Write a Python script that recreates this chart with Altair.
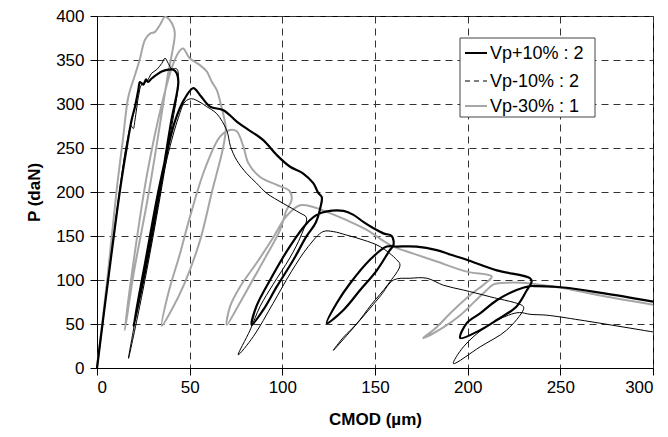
import altair as alt
import pandas as pd

series_names = ["Vp+10% : 2", "Vp-10% : 2", "Vp-30% : 1"]

# (CMOD µm, P daN), in drawing order
vp_plus10 = [(0,0),(6,100),(12.4,202),(16,250),(18.7,282),(20.5,297),(22.3,316),(23.2,325),(25,322),(26.5,328),(27.5,325),(29.5,329),(32,333),(34.9,337),(38.5,339),(41.2,339),(43,335),(43.9,325),(40,280),(33,190),(26,110),(19.6,47),(26,120),(34,210),(42,280),(47,305),(52,318),(55.6,310),(61,297),(68.2,293),(75.4,280),(80.8,272),(89.7,259),(97,242),(104,229),(111.3,221),(116.7,210),(119.4,199),(121.3,194),(120.5,182),(118,165),(113,149.5),(106,123),(97,92.4),(89.7,66),(83.5,49),(86,70),(93.4,100),(104,138),(113,164),(118.6,174),(124,178),(133,178.5),(138.4,174),(143.7,166),(149,159),(154.5,153),(159,150),(160,140),(158,134),(151,111),(142,88.6),(133,66),(124,51),(129.3,73.5),(136.5,96),(147.3,123),(156.3,138),(161.7,138),(172.5,138),(183.3,134),(190.5,129),(199.5,123),(215.7,111),(233.7,102),(234.5,98),(232,88.6),(226.4,70),(215.7,54.5),(206.7,43),(196,34),(199.5,51),(206.7,62),(215.7,77),(226.4,88.6),(233.7,93),(237,93),(251.6,91.5),(273,85),(300,75.4)]

vp_minus10 = [(0,0),(6,100),(12.2,202),(16,255),(18.5,275),(19.6,272),(20.5,282),(22.5,310),(24,322),(27,326),(29.5,335),(32.2,339),(34.9,346),(36.7,352),(38.5,346),(40.3,340),(43,340),(44,328),(40,270),(32,170),(24,80),(17,11),(22,70),(30,160),(38,240),(44,285),(47.5,302.6),(51,306),(55.6,302),(59.2,297),(64.6,289),(70,270),(72,252),(75.4,236),(80.8,221),(86.1,210),(91.6,198.5),(100.5,187),(109.6,176),(113,171),(110,150),(104,125),(95,95),(88,70),(82.6,43),(76.2,15),(84.3,35.6),(95,73.5),(105,110),(114,138),(122,155),(127.5,155),(134.7,151),(143.7,145.5),(152.7,138),(161.7,123),(163.5,117),(157,95),(148,72),(140,50),(133,35),(127.5,20),(136,40),(145,62),(153,82),(160,100),(169,102),(178,102),(187,94),(197.7,88.6),(212,81),(230,70),(230,66),(221,43),(206.7,24),(192.3,5),(197.7,24),(210,47),(222,60),(228,63),(233.7,61),(242.7,60),(260.7,54.5),(300,41)]

vp_minus30 = [(0,0),(5.5,100),(10.6,202),(14,260),(16.9,308),(20.5,333),(23,350),(25.9,373),(28.6,380),(31.3,382),(34,390),(36.7,399),(39,396),(41.2,388),(42,380),(38,330),(28,200),(20,110),(15,43),(19,110),(27,220),(35,300),(41,345),(44.8,361),(46.5,363),(50,352),(55,345),(59.2,337),(62,325),(64.6,316),(67,298),(69,280),(69.5,272),(68,250),(62,200),(55.6,145),(47,95),(40,65),(35,48),(38.5,85),(44.8,130),(50.2,172),(58,225),(66.4,263),(71.8,270.5),(75.4,269),(79,251.5),(81.7,232.6),(88,217),(97,208),(104,201),(105,191),(102,178),(98.8,157),(92,130),(84,100),(76,70),(70,49),(71.8,70),(77.2,92.4),(86,119),(95,148),(102,172),(109.5,185),(116.7,183),(125.7,176),(134.7,168),(145.6,157),(152.7,147),(160,138),(170.7,130),(183.3,121),(199.5,109.5),(213,104),(209.4,96),(202,84),(192,65),(182,44),(176,34),(186,45),(196,60),(204,76),(210,88),(214,95),(222,97),(234,96),(241,94),(252,90.5),(270,83),(300,72)]

x_ticks = [0, 50, 100, 150, 200, 250, 300]
y_ticks = [0, 50, 100, 150, 200, 250, 300, 350, 400]

rows = []
for name, pts in zip(series_names, [vp_plus10, vp_minus10, vp_minus30]):
    for i, (cx, p) in enumerate(pts):
        rows.append({"series": name, "cmod": cx, "p": p, "order": i})
df = pd.DataFrame(rows)

FONT = "Liberation Sans"
W, H = 556, 352

x_enc = alt.X("cmod:Q", scale=alt.Scale(domain=[0, 300], nice=False, zero=False),
              axis=alt.Axis(values=x_ticks, title="CMOD (µm)", format="d"))
y_enc = alt.Y("p:Q", scale=alt.Scale(domain=[0, 400], nice=False),
              axis=alt.Axis(values=y_ticks, title="P (daN)", format="d"))

styles = {
    "Vp-30% : 1": ("#a6a6a6", 2.0),
    "Vp-10% : 2": ("#000000", 1.0),
    "Vp+10% : 2": ("#000000", 2.2),
}

layers = []
for name in ["Vp-30% : 1", "Vp-10% : 2", "Vp+10% : 2"]:
    col, sw = styles[name]
    layers.append(
        alt.Chart(df).transform_filter(alt.datum.series == name)
        .mark_line(color=col, strokeWidth=sw, strokeJoin="round", interpolate="catmull-rom")
        .encode(x=x_enc, y=y_enc, order="order:Q")
    )

one = pd.DataFrame({"k": [0]})
# legend box (pixel positions inside plot area)
lx0, lx1, ly0, ly1 = 363, 498, 22, 101
legend_rows_y = [37, 65, 90]
legend_dash = [[1, 0], [5, 4], [1, 0]]
legend_col = ["#000000", "#000000", "#a6a6a6"]
legend_w = [2.0, 1.0, 2.0]

layers.append(
    alt.Chart(one).mark_rect(fill="white", stroke="#444444", strokeWidth=1)
    .encode(x=alt.value(lx0), x2=alt.value(lx1), y=alt.value(ly0), y2=alt.value(ly1))
)
for name, yy, dash, col, sw in zip(series_names, legend_rows_y, legend_dash, legend_col, legend_w):
    layers.append(
        alt.Chart(one).mark_rule(color=col, strokeWidth=sw, strokeDash=dash)
        .encode(x=alt.value(368), x2=alt.value(390), y=alt.value(yy))
    )
    layers.append(
        alt.Chart(one).mark_text(align="left", baseline="middle", font=FONT, fontSize=18, color="black")
        .encode(x=alt.value(393), y=alt.value(yy + 1), text=alt.value(name))
    )

chart = alt.layer(*layers).properties(
    width=W, height=H,
    autosize=alt.AutoSizeParams(type="none"),
    padding={"left": 89, "top": 8, "right": 7, "bottom": 69},
    background="white",
).configure_view(
    stroke="black", strokeWidth=1
).configure_axis(
    labelFont=FONT, labelFontSize=17, labelColor="black",
    titleFont=FONT, titleFontSize=17, titleFontWeight="bold", titleColor="black",
    domainColor="black", tickColor="black", tickSize=7,
    grid=True, gridColor="#333333", gridDash=[7, 5], gridWidth=1, gridOpacity=1,
).configure_axisX(
    labelPadding=4, titlePadding=16,
).configure_axisY(
    labelPadding=6, titlePadding=12,
)

chart.save("out.html", embed_options={"renderer": "svg", "actions": False})
